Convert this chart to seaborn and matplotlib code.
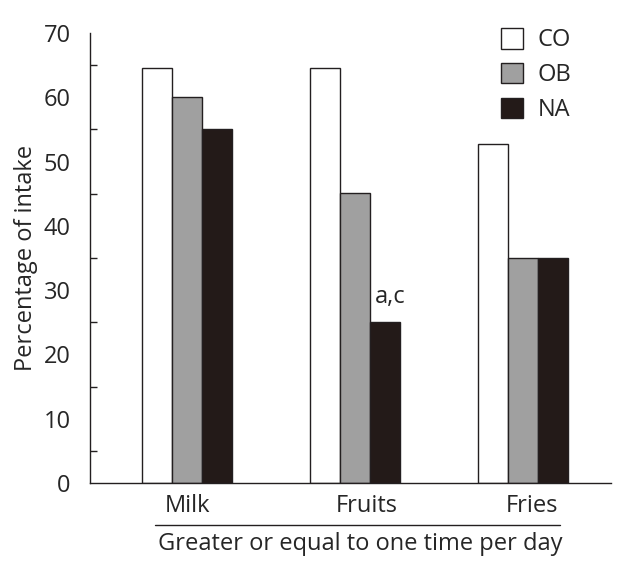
import numpy as np
import pandas as pd
import matplotlib.pyplot as plt
import matplotlib.transforms as mtransforms
import seaborn as sns
from matplotlib.ticker import MultipleLocator

# data
foods = ["Milk", "Fruits", "Fries"]
groups = ["CO", "OB", "NA"]
co = [64.6, 64.6, 52.7]
ob = [60.0, 45.1, 35.0]
na = [55.1, 25.0, 35.0]

df = pd.DataFrame({
    "food": foods * 3,
    "group": ["CO"] * 3 + ["OB"] * 3 + ["NA"] * 3,
    "value": co + ob + na,
})

colors = {"CO": "#ffffff", "OB": "#a0a0a0", "NA": "#231a18"}
edge = "#231f20"
fs = 17

sns.set_style("white")
plt.rcParams["font.family"] = ["Open Sans", "DejaVu Sans"]

fig = plt.figure(figsize=(6.3, 5.68), dpi=100)
ax = fig.add_axes([90 / 630, 1 - 483 / 568, 521 / 630, 450 / 568])

sns.barplot(data=df, x="food", y="value", hue="group", order=foods,
            hue_order=groups, palette=colors, width=0.535,
            edgecolor=edge, linewidth=1.0, saturation=1, ax=ax)

ax.set_ylim(0, 70)
ax.set_xlim(-0.577, 2.524)
ax.yaxis.set_major_locator(MultipleLocator(10))
ax.yaxis.set_minor_locator(MultipleLocator(5))
ax.tick_params(axis="y", which="major", direction="in", length=10, width=1,
               color=edge, labelsize=fs, pad=14)
ax.tick_params(axis="y", which="minor", direction="in", length=5, width=1,
               color=edge, left=True)
ax.tick_params(axis="x", length=0, labelsize=fs, pad=8)
ax.set_xlabel("")
ax.set_ylabel("Percentage of intake", fontsize=fs, labelpad=4)

# the category names sit a little right of the group centres
shifts = [1, 12, 9]
for lab, dx in zip(ax.get_xticklabels(), shifts):
    lab.set_transform(lab.get_transform() +
                      mtransforms.ScaledTranslation(dx / 100, 0, fig.dpi_scale_trans))

for side in ["top", "right"]:
    ax.spines[side].set_visible(False)
for side in ["left", "bottom"]:
    ax.spines[side].set_color(edge)
    ax.spines[side].set_linewidth(1)

# significance mark over NA fruits
ax.text(1.21, na[1] + 2.0, "a,c", ha="center", va="bottom", fontsize=fs)

# legend
handles, labels = ax.get_legend_handles_labels()
leg = ax.legend(handles, labels, loc="upper left", bbox_to_anchor=(0.748, 1.058),
                frameon=False, fontsize=fs, handlelength=0.95, handleheight=0.95,
                labelspacing=0.45, handletextpad=0.6)

# underline and group caption
fig.add_artist(plt.Line2D([155 / 630, 560 / 630], [1 - 525 / 568, 1 - 525 / 568],
                          color=edge, linewidth=1))
fig.text(360 / 630, 1 - 544 / 568, "Greater or equal to one time per day",
         ha="center", va="center", fontsize=fs)

fig.savefig("out.png", dpi=100)
